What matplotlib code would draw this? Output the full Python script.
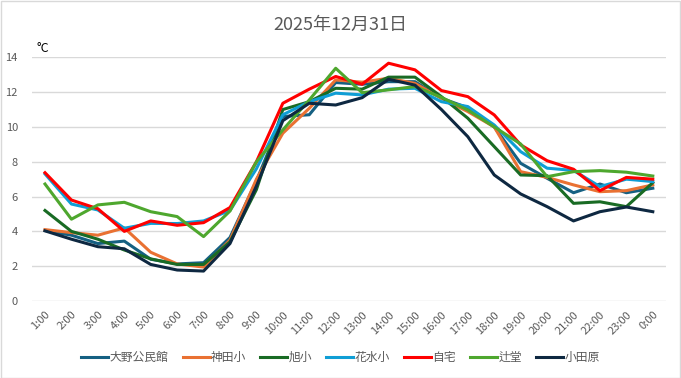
import matplotlib.pyplot as plt
from matplotlib.patches import Rectangle

plt.rcParams['font.family'] = ['Noto Sans CJK JP', 'DejaVu Sans']

hours = ['1:00', '2:00', '3:00', '4:00', '5:00', '6:00', '7:00', '8:00',
         '9:00', '10:00', '11:00', '12:00', '13:00', '14:00', '15:00', '16:00',
         '17:00', '18:00', '19:00', '20:00', '21:00', '22:00', '23:00', '0:00']

ono = [4.05, 3.78, 3.3, 3.44, 2.4, 2.13, 2.2, 3.65, 6.9, 10.6, 10.7, 12.55,
       12.45, 12.6, 12.6, 11.65, 11.1, 10.0, 7.91, 7.05, 6.22, 6.72, 6.22, 6.48]
kanda = [4.1, 3.93, 3.78, 4.2, 2.8, 2.13, 1.95, 3.5, 7.0, 9.64, 11.07, 12.7,
         12.57, 12.8, 12.5, 11.65, 10.88, 10.0, 7.43, 7.1, 6.67, 6.28, 6.34, 6.67]
asahi = [5.2, 4.0, 3.55, 2.93, 2.42, 2.1, 2.1, 3.4, 6.4, 11.0, 11.45, 12.22,
         12.17, 12.86, 12.86, 11.74, 10.5, 8.87, 7.24, 7.2, 5.61, 5.7, 5.42, 6.8]
hanamizu = [7.3, 5.57, 5.23, 4.18, 4.46, 4.45, 4.6, 5.2, 7.6, 10.7, 11.45, 11.94,
            11.84, 12.17, 12.22, 11.45, 11.17, 10.11, 8.58, 7.63, 7.5, 6.57, 7.0, 6.86]
jitaku = [7.37, 5.8, 5.3, 4.0, 4.6, 4.35, 4.5, 5.37, 8.0, 11.36, 12.17, 12.9,
          12.45, 13.66, 13.28, 12.09, 11.74, 10.69, 8.97, 8.06, 7.57, 6.34, 7.1, 7.0]
tsujido = [6.72, 4.7, 5.52, 5.67, 5.13, 4.85, 3.7, 5.17, 8.0, 9.83, 11.55, 13.37,
           11.97, 12.13, 12.32, 11.7, 10.97, 10.0, 9.02, 7.14, 7.43, 7.49, 7.4, 7.18]
odawara = [4.03, 3.55, 3.12, 3.0, 2.1, 1.78, 1.72, 3.3, 6.6, 10.36, 11.36, 11.26,
           11.68, 12.74, 12.4, 11.0, 9.44, 7.24, 6.15, 5.42, 4.6, 5.13, 5.4, 5.13]

names = ['大野公民館', '神田小', '旭小', '花水小', '自宅', '辻堂', '小田原']
series = [ono, kanda, asahi, hanamizu, jitaku, tsujido, odawara]
colors = ['#156082', '#e97132', '#196b24', '#0f9ed5', '#ff0000', '#4ea72e', '#0e2841']

fig = plt.figure(figsize=(6.81, 3.78), dpi=100)
ax = fig.add_axes([0.0467, 0.2037, 0.9313, 0.6447])

x = range(len(hours))
for name, vals, c in zip(names, series, colors):
    ax.plot(x, vals, color=c, lw=2.2, label=name, solid_joinstyle='round')

ax.set_xlim(-0.5, len(hours) - 0.5)
ax.set_ylim(0, 14)
ax.set_yticks(range(0, 15, 2))
ax.set_xticks(list(x))
ax.set_xticklabels(hours, rotation=45, ha='right', rotation_mode='anchor')
ax.grid(axis='y', color='#d9d9d9', lw=1)
ax.set_axisbelow(True)
for s in ax.spines.values():
    s.set_visible(False)
ax.tick_params(axis='both', length=0, labelsize=8, labelcolor='#595959')
ax.tick_params(axis='y', pad=10)
ax.tick_params(axis='x', pad=6)

fig.text(0.5, 0.934, '2025年12月31日', ha='center', va='center',
         fontsize=13, color='#595959')
fig.text(0.054, 0.873, '°C', ha='left', va='center', fontsize=9, color='black')

fig.legend(loc='center', bbox_to_anchor=(0.5, 0.055), ncol=7, frameon=False,
           fontsize=8.5, handlelength=2.3, columnspacing=1.2, handletextpad=0.1,
           labelcolor='#595959')

fig.patches.append(Rectangle((0.001, 0.001), 0.997, 0.997, transform=fig.transFigure,
                             fill=False, edgecolor='#d9d9d9', lw=1))

fig.savefig('out.png', dpi=100)
